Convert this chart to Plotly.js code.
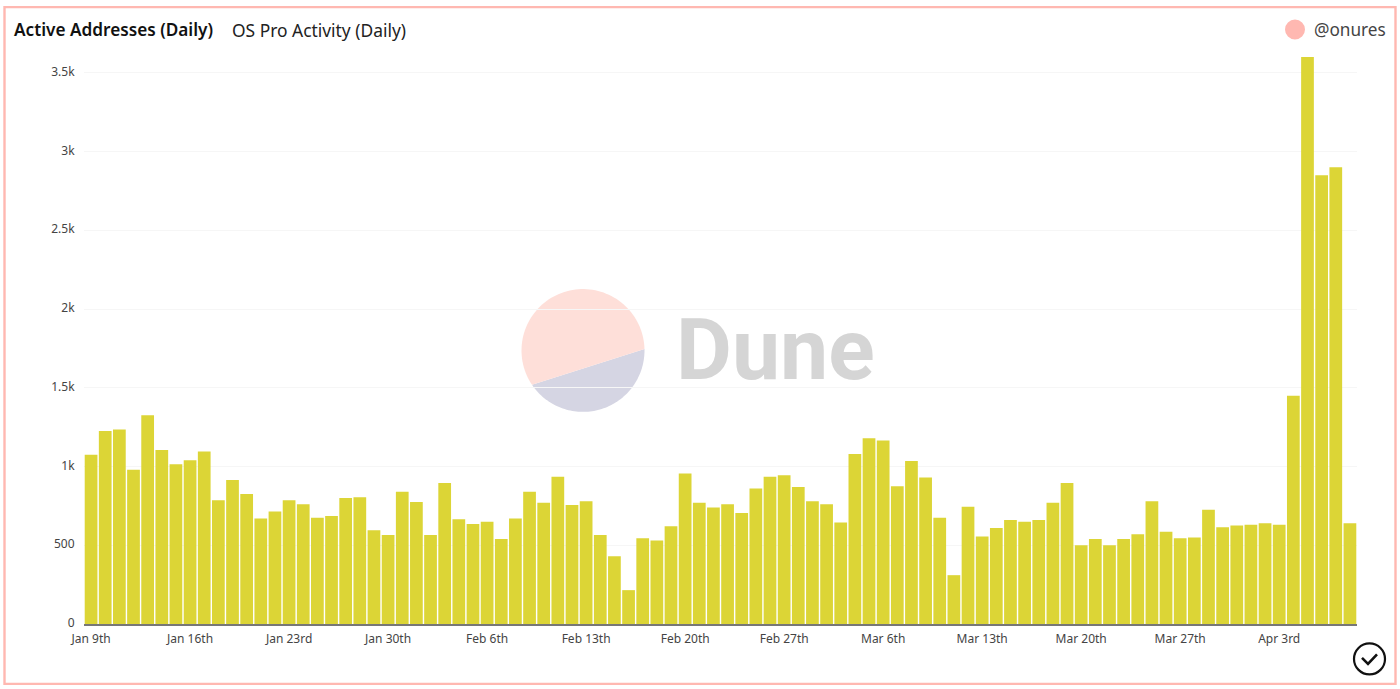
<!DOCTYPE html>
<html><head><meta charset="utf-8">
<script src="https://cdn.plot.ly/plotly-3.0.1.min.js"></script>
<style>html,body{margin:0;padding:0;background:#fff;overflow:hidden}#c{width:1400px;height:689px}</style>
</head><body><div id="c"></div>
<script>
const days = ["2022-01-09","2022-01-10","2022-01-11","2022-01-12","2022-01-13","2022-01-14","2022-01-15","2022-01-16","2022-01-17","2022-01-18",
"2022-01-19","2022-01-20","2022-01-21","2022-01-22","2022-01-23","2022-01-24","2022-01-25","2022-01-26","2022-01-27","2022-01-28",
"2022-01-29","2022-01-30","2022-01-31","2022-02-01","2022-02-02","2022-02-03","2022-02-04","2022-02-05","2022-02-06","2022-02-07",
"2022-02-08","2022-02-09","2022-02-10","2022-02-11","2022-02-12","2022-02-13","2022-02-14","2022-02-15","2022-02-16","2022-02-17",
"2022-02-18","2022-02-19","2022-02-20","2022-02-21","2022-02-22","2022-02-23","2022-02-24","2022-02-25","2022-02-26","2022-02-27",
"2022-02-28","2022-03-01","2022-03-02","2022-03-03","2022-03-04","2022-03-05","2022-03-06","2022-03-07","2022-03-08","2022-03-09",
"2022-03-10","2022-03-11","2022-03-12","2022-03-13","2022-03-14","2022-03-15","2022-03-16","2022-03-17","2022-03-18","2022-03-19",
"2022-03-20","2022-03-21","2022-03-22","2022-03-23","2022-03-24","2022-03-25","2022-03-26","2022-03-27","2022-03-28","2022-03-29",
"2022-03-30","2022-03-31","2022-04-01","2022-04-02","2022-04-03","2022-04-04","2022-04-05","2022-04-06","2022-04-07","2022-04-08"];
const activeAddresses = [1075,1225,1235,980,1325,1105,1015,1040,1095,785,
915,825,670,715,785,760,675,685,800,805,
595,565,840,775,565,895,665,635,650,540,
670,840,770,935,755,780,565,430,215,545,
530,620,955,770,740,760,705,860,935,945,
870,780,760,645,1080,1180,1165,875,1035,930,
675,310,745,555,610,660,650,660,770,895,
500,540,500,540,570,780,585,545,550,725,
615,625,630,640,630,1450,3600,2850,2900,640];
const xTickVals = ["2022-01-09","2022-01-16","2022-01-23","2022-01-30","2022-02-06","2022-02-13","2022-02-20","2022-02-27","2022-03-06","2022-03-13","2022-03-20","2022-03-27","2022-04-03"];
const xTickText = ["Jan 9th","Jan 16th","Jan 23rd","Jan 30th","Feb 6th","Feb 13th","Feb 20th","Feb 27th","Mar 6th","Mar 13th","Mar 20th","Mar 27th","Apr 3rd"];
const yTickVals = [0,500,1000,1500,2000,2500,3000,3500];
const yTickText = ["0","500","1k","1.5k","2k","2.5k","3k","3.5k"];

const W=1400,H=689,L=84,R=1357,T=56.5,B=624.5;
const px=x=>(x-L)/(R-L), py=y=>(B-y)/(B-T);
function arc(cx,cy,r,a0,a1){let s='';const n=80;for(let i=0;i<=n;i++){const a=(a0+(a1-a0)*i/n)*Math.PI/180;
  s+=(i?'L':'M')+px(cx+r*Math.cos(a))+','+py(cy+r*Math.sin(a));}return s+'Z';}
const pshape=(path,fill,extra)=>Object.assign({type:'path',xref:'paper',yref:'paper',path,fillcolor:fill,line:{width:0},layer:'below'},extra||{});
const line=(pts,col,w)=>({type:'path',xref:'paper',yref:'paper',layer:'above',line:{color:col,width:w},
  path:pts.map((p,i)=>(i?'L':'M')+px(p[0])+','+py(p[1])).join('')});
const ui="'Noto Sans',sans-serif";
const shapes=[
 pshape(arc(583,350.5,61.5,-1.4,146),'#d5d5e3'),
 pshape(arc(583,350.5,61.5,146,358.6),'#fedfd9'),
 {type:'rect',xref:'paper',yref:'paper',x0:px(4.5),x1:px(1395.5),y0:py(684.5),y1:py(6.5),line:{color:'#ffb8b1',width:2.4},layer:'above',fillcolor:'rgba(0,0,0,0)'},
 {type:'circle',xref:'paper',yref:'paper',x0:px(1285),x1:px(1305),y0:py(39),y1:py(19),fillcolor:'#ffb8b1',line:{width:0},layer:'above'},
 {type:'circle',xref:'paper',yref:'paper',x0:px(1354),x1:px(1385),y0:py(675),y1:py(644),fillcolor:'rgba(0,0,0,0)',line:{color:'#111',width:2.2},layer:'above'},
 line([[1362,658.5],[1368,664.5],[1377,655]],'#111',2.6)
];
const ann=(x,y,text,size,color,extra)=>Object.assign({xref:'paper',yref:'paper',x:px(x),y:py(y),text,showarrow:false,xanchor:'left',yanchor:'middle',
  font:{family:ui,size,color}},extra||{});
const annotations=[
 ann(12,29,'Active Addresses (Daily)',17.2,'#111',{font:{family:ui,size:17.2,color:'#111',weight:600}}),
 ann(230,29,'OS Pro Activity (Daily)',17.4,'#222'),
 ann(1312,29,'@onures',17.2,'#444'),
 ann(674,350,'Dune',86,'#d5d5d5',{font:{family:"Roboto,sans-serif",size:86,color:'#d5d5d5',weight:700}})
];
Plotly.newPlot('c',[{type:'bar',x:days,y:activeAddresses,marker:{color:'#dcd536',line:{width:0}},
 hovertemplate:'%{x|%b %d}: %{y}<extra></extra>'}],{
 width:W,height:H,margin:{l:L,r:W-R,t:T,b:H-B,pad:0},paper_bgcolor:'#fff',plot_bgcolor:'rgba(0,0,0,0)',
 bargap:0.1,showlegend:false,
 font:{family:ui,size:12,color:'#444'},
 xaxis:{type:'date',range:['2022-01-08 12:00','2022-04-08 12:00'],tickmode:'array',tickvals:xTickVals,ticktext:xTickText,
  showgrid:false,showline:true,linecolor:'#777',linewidth:1.5,ticks:'outside',ticklen:3,tickcolor:'rgba(0,0,0,0)',tickfont:{size:12,color:'#444'},zeroline:false},
 yaxis:{range:[0,3600],tickmode:'array',tickvals:yTickVals,ticktext:yTickText,showgrid:true,gridcolor:'#f6f6f6',gridwidth:1,
  zeroline:false,showline:false,ticks:'outside',ticklen:6,tickcolor:'rgba(0,0,0,0)',ticklabelshift:-1,tickfont:{size:12,color:'#444'}},
 shapes,annotations
},{displayModeBar:false,responsive:false});
</script></body></html>
